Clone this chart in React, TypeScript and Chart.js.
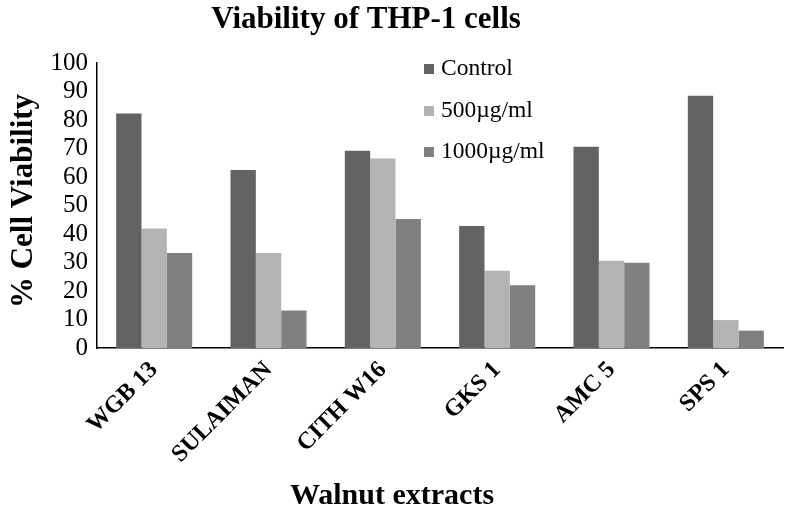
import React, { useEffect, useRef } from "react";
import { Chart, registerables } from "chart.js";

Chart.register(...registerables);

const TITLE = "Viability of THP-1 cells";
const X_TITLE = "Walnut extracts";
const Y_TITLE = "% Cell Viability";

const categories = ["WGB 13", "SULAIMAN", "CITH W16", "GKS 1", "AMC 5", "SPS 1"];
const seriesNames = ["Control", "500µg/ml", "1000µg/ml"];
const control = [82.3, 62.5, 69.2, 42.8, 70.6, 88.5];
const dose500 = [41.9, 33.3, 66.5, 27.1, 30.6, 9.8];
const dose1000 = [33.3, 13.2, 45.3, 22.0, 29.9, 6.1];
const colors = ["#636363", "#b3b3b3", "#808080"];
const yTicks = { min: 0, max: 100, step: 10 };

const SERIF = '"Liberation Serif", "Times New Roman", serif';

const textPlugin = {
  id: "customTexts",
  afterDraw(chart: any) {
    const ctx = chart.ctx as CanvasRenderingContext2D;
    ctx.save();
    ctx.fillStyle = "#000";
    // title
    ctx.font = `bold 31px ${SERIF}`;
    ctx.textAlign = "center";
    ctx.textBaseline = "alphabetic";
    ctx.fillText(TITLE, 366, 28);
    // x title
    ctx.font = `bold 30px ${SERIF}`;
    ctx.fillText(X_TITLE, 392, 504);
    // y title
    ctx.save();
    ctx.translate(32, 201);
    ctx.rotate(-Math.PI / 2);
    ctx.font = `bold 31px ${SERIF}`;
    ctx.fillText(Y_TITLE, 0, 0);
    ctx.restore();
    // legend
    const rows = [69, 111, 152];
    chart.data.datasets.forEach((ds: any, i: number) => {
      const cy = rows[i];
      ctx.fillStyle = ds.backgroundColor;
      ctx.fillRect(424, cy - 5, 10, 10);
      ctx.fillStyle = "#000";
      ctx.font = `23.5px ${SERIF}`;
      ctx.textAlign = "left";
      ctx.textBaseline = "middle";
      ctx.fillText(ds.label, 441, cy);
    });
    ctx.restore();
  },
};

export default function App() {
  const ref = useRef<HTMLCanvasElement | null>(null);
  useEffect(() => {
    if (!ref.current) return;
    const values = [control, dose500, dose1000];
    const chart = new Chart(ref.current, {
      type: "bar",
      data: {
        labels: categories,
        datasets: seriesNames.map((name, i) => ({
          label: name,
          data: values[i],
          backgroundColor: colors[i],
          borderWidth: 0,
          categoryPercentage: 0.665,
          barPercentage: 1,
        })),
      },
      options: {
        animation: false,
        responsive: false,
        maintainAspectRatio: false,
        layout: { padding: { top: 63, right: 3, left: 0, bottom: 0 } },
        plugins: {
          legend: { display: false },
          title: { display: false },
          tooltip: { enabled: false },
        },
        scales: {
          x: {
            grid: { display: false, drawTicks: false },
            border: { display: true, color: "#000", width: 1.5 },
            ticks: {
              color: "#000",
              font: { family: SERIF, size: 24, weight: "bold" },
              minRotation: 45,
              maxRotation: 45,
              padding: 8,
              autoSkip: false,
            },
            afterFit(scale: any) {
              scale.height = 168;
            },
          },
          y: {
            min: yTicks.min,
            max: yTicks.max,
            grid: { display: false, drawTicks: false },
            border: { display: true, color: "#000", width: 1.5 },
            ticks: {
              stepSize: yTicks.step,
              autoSkip: false,
              color: "#000",
              font: { family: SERIF, size: 25 },
              padding: 9,
            },
            afterFit(scale: any) {
              scale.width = 97;
            },
          },
        },
      },
      plugins: [textPlugin],
    });
    return () => chart.destroy();
  }, []);
  return (
    <div style={{ position: "fixed", left: 0, top: 0, width: 786, height: 516, background: "#fff" }}>
      <canvas ref={ref} width={786} height={516} style={{ width: 786, height: 516 }} />
    </div>
  );
}
